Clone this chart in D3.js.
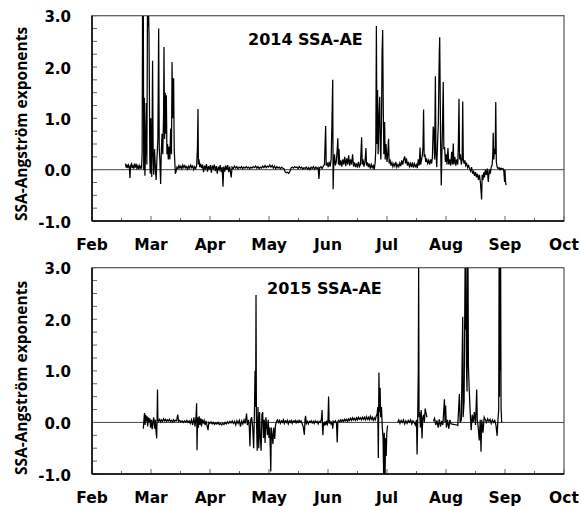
<!DOCTYPE html>
<html><head><meta charset="utf-8">
<script src="https://cdn.jsdelivr.net/npm/d3@7"></script>
<style>body{margin:0;background:#fff}svg{display:block}</style>
</head><body><svg id="c" width="581" height="506"></svg>
<script>
// ---------- data ----------
const monthLabels = ["Feb","Mar","Apr","May","Jun","Jul","Aug","Sep","Oct"];
const monthDays = [0,30,60,90,120,150,180,210,240];
const yTickLabels = [3,2,1,0,-1];
const titles = ["2014 SSA-AE","2015 SSA-AE"];
const yAxisTitle = "SSA-Angström exponents";

const days2014 = [17.0,17.4,17.8,18.2,18.6,19.0,19.3,19.6,20.0,20.4,20.8,21.2,21.6,22.0,22.4,22.8,23.2,23.6,24.0,24.4,24.8,25.2,25.5,25.7,25.9,26.1,26.3,26.6,26.9,27.2,27.6,27.9,28.2,28.5,28.8,29.0,29.2,29.4,29.6,29.9,30.1,30.4,30.8,31.1,31.4,31.8,32.2,32.6,33.0,33.5,33.9,34.2,34.5,34.9,35.2,35.6,36.0,36.4,36.6,36.9,37.2,37.5,37.8,38.1,38.4,38.8,39.2,39.6,40.0,40.4,40.7,41.0,41.2,41.5,41.8,42.1,42.4,42.8,43.2,43.7,44.2,44.7,45.2,45.7,46.2,46.7,47.2,47.7,48.2,48.7,49.2,49.7,50.2,50.7,51.2,51.7,52.2,52.7,53.2,53.6,53.9,54.1,54.4,54.8,55.2,55.7,56.2,56.7,57.2,57.7,58.2,58.7,59.2,59.7,60.2,60.7,61.2,61.7,62.2,62.7,63.2,63.7,64.2,64.7,65.2,65.7,66.2,66.6,67.0,67.5,68.0,68.5,69.0,69.5,70.0,70.8,71.2,71.8,72.4,73.0,73.6,74.2,74.8,75.4,76.0,76.6,77.2,77.8,78.4,79.0,79.6,80.2,80.8,81.4,82.0,82.6,83.2,83.8,84.4,85.0,85.6,86.2,86.8,87.4,88.0,88.6,89.2,89.8,90.4,91.0,91.6,92.2,92.8,93.4,94.0,94.6,95.2,95.8,96.4,97.0,97.6,98.2,98.8,99.4,100.0,100.6,101.2,101.8,102.4,103.0,103.6,104.2,104.8,105.4,106.0,106.6,107.2,107.8,108.4,109.0,109.6,110.2,110.8,111.4,112.0,112.6,113.2,113.8,114.4,115.0,115.4,115.8,116.4,117.0,117.6,118.2,118.8,119.1,119.6,120.1,120.6,121.1,121.6,122.0,122.4,122.6,122.9,123.3,123.7,124.2,124.7,125.0,125.3,125.6,126.0,126.5,127.0,127.5,128.0,128.5,129.0,129.5,130.0,130.5,131.0,131.5,132.0,132.5,133.0,133.5,134.0,134.5,135.0,135.5,136.0,136.5,137.1,137.4,137.8,138.3,138.8,139.3,139.6,140.0,140.5,141.0,141.5,142.0,142.5,143.0,143.5,144.0,144.3,144.6,144.9,145.2,145.5,145.9,146.3,146.6,146.9,147.2,147.5,147.8,148.1,148.4,148.8,149.1,149.5,150.0,150.4,150.8,151.1,151.5,152.0,152.5,153.0,153.5,154.0,154.5,155.0,155.5,156.0,156.5,157.0,157.5,158.0,158.5,159.0,159.4,159.9,160.4,160.9,161.4,161.9,162.4,162.9,163.4,163.9,164.4,164.9,165.4,165.9,166.4,166.8,167.1,167.6,168.0,168.3,168.6,168.9,169.3,169.7,170.2,170.7,171.2,171.7,172.2,172.7,173.1,173.5,173.9,174.2,174.6,174.9,175.3,175.7,176.1,176.4,176.6,176.8,177.0,177.3,177.6,177.9,178.2,178.6,178.9,179.3,179.7,180.1,180.5,181.0,181.4,181.9,182.4,182.9,183.3,183.7,184.0,184.5,185.0,185.5,186.0,186.3,186.6,186.9,187.3,187.8,188.2,188.5,188.8,189.2,189.6,190.0,190.5,191.0,191.5,192.0,192.5,193.0,193.5,194.0,194.5,195.0,195.5,196.0,196.5,197.0,197.5,198.1,198.4,198.8,199.2,199.6,200.0,200.5,201.0,201.5,202.0,202.5,203.0,203.5,203.8,204.0,204.3,204.7,205.0,205.3,205.6,206.0,206.5,207.0,207.5,208.0,208.5,209.0,209.4,209.8,210.0,210.2,210.5];
const ssa2014 = [0.12,0.04,0.10,0.03,0.09,0.05,-0.16,0.07,0.11,0.03,0.08,0.02,0.09,0.04,0.12,0.03,0.07,0.01,0.08,0.03,0.06,0.02,0.35,3.0,1.6,3.0,0.0,1.4,-0.12,0.3,1.3,0.1,3.0,2.8,3.0,2.6,1.4,0.2,-0.08,1.0,0.1,-0.14,2.12,0.3,-0.1,0.4,0.05,-0.2,0.2,0.6,2.75,0.4,0.2,-0.28,0.3,0.7,0.3,1.1,2.39,0.6,1.5,0.7,1.45,0.3,0.5,0.2,0.45,0.2,0.8,0.3,2.10,1.0,1.77,1.77,0.4,0.15,-0.08,-0.03,0.05,0.02,0.08,0.03,0.07,0.02,0.09,0.04,0.08,0.03,0.06,0.01,0.07,0.03,0.09,0.04,0.07,0.0,0.06,0.02,0.08,0.4,1.18,0.1,0.2,0.05,0.12,0.03,0.10,-0.05,0.08,0.02,0.11,-0.04,0.07,0.0,0.09,-0.06,0.08,0.02,0.1,-0.03,0.07,-0.08,0.06,0.0,0.09,-0.05,0.05,-0.33,0.06,-0.04,0.08,0.0,0.09,-0.05,0.06,-0.15,0.05,0.02,0.07,0.03,0.06,0.02,0.05,0.03,0.06,0.02,0.05,0.03,0.06,0.03,0.05,0.02,0.05,0.03,0.06,0.04,0.07,0.03,0.06,0.02,0.05,0.03,0.07,0.04,0.08,0.04,0.07,0.05,0.09,0.05,0.08,0.03,0.07,0.02,0.06,0.03,0.05,0.02,0.05,0.03,0.02,-0.04,-0.06,-0.05,-0.07,-0.04,0.03,0.05,0.03,0.06,0.04,0.05,0.02,0.06,0.03,0.05,0.01,0.04,0.02,0.05,0.01,0.04,0.0,0.05,0.02,0.06,0.01,0.05,0.02,0.04,-0.18,0.04,0.06,0.02,0.07,0.1,0.85,0.08,0.12,0.05,0.15,0.06,0.2,0.9,1.75,-0.38,0.1,0.3,0.08,0.15,0.4,0.61,0.1,0.4,0.08,0.18,0.06,0.2,0.1,0.25,0.07,0.22,0.1,0.28,0.08,0.2,0.1,0.3,0.06,0.14,0.05,0.12,0.04,0.15,0.06,0.1,0.63,0.1,0.2,0.06,0.15,0.42,0.08,0.14,0.05,0.12,0.02,0.1,0.04,0.08,0.0,0.15,0.4,2.8,0.5,1.55,0.3,1.0,1.42,0.4,0.2,0.9,2.29,2.72,1.2,0.3,0.93,0.2,0.5,0.15,0.3,0.6,0.12,0.2,0.08,0.14,0.06,0.12,0.07,0.15,0.05,0.1,0.06,0.13,0.07,0.18,0.1,0.2,0.26,0.12,0.22,0.08,0.15,0.06,0.12,0.05,0.14,0.04,0.12,0.06,0.1,0.03,0.2,0.08,0.43,0.1,0.2,0.3,0.44,1.17,0.25,0.3,0.15,0.2,0.12,0.18,0.1,0.2,0.12,0.25,0.84,0.72,0.2,1.82,0.3,0.05,0.5,0.9,1.8,2.27,2.58,1.7,0.4,-0.31,0.3,0.8,1.71,0.4,0.44,0.15,0.3,0.1,0.42,0.1,0.2,0.08,0.35,0.1,0.51,0.1,0.25,0.08,0.2,0.1,0.53,1.38,0.2,0.3,0.1,0.2,1.33,0.2,0.12,0.18,0.08,0.12,0.04,0.08,0.02,-0.03,0.05,-0.08,-0.02,-0.12,-0.05,-0.15,-0.08,-0.2,-0.1,-0.25,-0.58,-0.1,-0.2,-0.05,-0.15,0.0,-0.1,0.02,-0.24,0.0,-0.08,0.05,0.1,0.3,0.72,0.2,0.4,0.3,1.32,0.15,0.05,0.02,0.04,0.0,0.03,0.01,0.02,-0.03,-0.24,0.0,-0.2,-0.3];

const days2015 = [26.1,26.4,26.7,27.0,27.3,27.6,28.0,28.3,28.7,29.0,29.4,29.8,30.2,30.6,31.0,31.4,31.8,32.2,32.6,32.9,33.1,33.3,33.5,33.9,34.4,34.9,35.4,35.9,36.4,36.9,37.4,37.9,38.4,38.9,39.4,39.9,40.4,40.9,41.4,41.9,42.4,43.0,43.6,44.0,44.6,45.2,45.8,46.4,47.0,47.6,48.2,48.8,49.4,50.0,50.6,51.2,51.8,52.4,52.9,53.2,53.4,53.7,54.1,54.5,54.9,55.3,55.7,56.1,56.5,57.0,57.5,58.0,58.5,59.0,59.4,59.9,60.5,61.1,61.7,62.3,62.9,63.5,64.1,64.7,65.3,65.9,66.5,67.1,67.7,68.3,68.9,69.5,70.1,70.7,71.3,71.9,72.5,73.1,73.7,74.3,74.9,75.5,76.1,76.7,77.3,77.9,78.6,79.0,79.6,80.0,80.3,80.7,81.2,81.7,82.2,82.6,82.9,83.2,83.4,83.6,84.0,84.4,84.8,85.2,85.6,86.0,86.4,86.8,87.2,87.6,88.0,88.4,88.8,89.2,89.6,90.0,90.4,90.9,91.2,91.6,92.0,92.4,92.9,93.3,93.8,94.3,94.8,95.3,95.8,96.3,96.8,97.3,97.8,98.3,98.8,99.3,99.8,100.3,100.8,101.3,101.8,102.3,102.8,103.3,103.8,104.3,104.8,105.3,105.8,106.3,106.8,107.4,108.0,108.3,108.6,109.0,109.5,110.0,110.5,111.0,111.5,112.0,112.5,113.0,113.5,114.0,114.5,115.0,115.5,116.0,116.6,117.0,117.2,117.4,117.7,118.1,118.5,118.9,119.3,119.7,120.0,120.3,120.6,121.0,121.5,122.0,122.4,122.8,123.3,123.8,124.3,124.7,125.0,125.5,126.0,126.5,127.0,127.5,128.0,128.5,129.0,129.5,130.0,130.5,131.0,131.5,132.0,132.5,133.0,133.5,134.0,134.5,135.0,135.5,136.0,136.5,137.0,137.5,138.0,138.5,139.0,139.5,140.0,140.5,141.0,141.5,142.0,142.5,143.0,143.5,144.0,144.5,145.0,145.3,145.6,145.9,146.2,146.5,146.8,147.2,147.6,148.0,148.3,148.6,149.0,149.3,149.6,149.9,150.3,152.0,155.4,156.0,156.6,157.2,157.8,158.4,159.0,159.6,160.2,160.8,161.4,162.0,162.6,163.2,163.8,164.4,165.0,165.3,165.6,165.9,166.1,166.3,166.6,167.0,167.4,167.8,168.2,168.6,169.0,169.4,170.3,171.5,173.6,174.2,174.8,175.4,176.0,176.6,177.2,177.8,178.4,179.2,179.5,179.8,180.2,180.8,181.4,182.0,182.6,185.5,186.0,186.8,187.2,187.8,188.3,188.5,188.7,189.2,189.7,189.9,190.2,190.4,190.7,191.0,191.2,191.4,191.8,192.3,192.8,193.3,193.8,194.4,195.0,195.6,195.9,196.4,196.9,197.4,197.8,198.2,198.8,199.4,200.0,200.6,201.2,201.8,202.4,203.0,203.6,204.2,204.8,205.4,206.0,206.4,206.8,207.0,207.2,207.4,207.6,207.8,208.0,208.3];
const ssa2015 = [-0.12,0.05,0.18,-0.05,0.15,0.02,0.12,-0.08,0.10,0.0,0.08,-0.10,0.05,-0.13,0.02,0.1,-0.12,0.05,-0.2,-0.31,0.1,0.64,0.05,0.02,0.06,0.01,0.05,0.02,0.07,0.03,0.06,0.02,0.05,0.03,0.06,0.02,0.04,0.01,0.05,0.02,0.04,0.03,0.15,0.02,0.04,0.01,0.03,0.0,0.03,0.01,0.04,0.0,0.03,-0.02,0.05,-0.05,0.1,-0.08,0.12,0.37,-0.54,0.1,-0.1,0.12,-0.05,0.08,-0.08,0.06,-0.02,0.04,-0.05,0.03,-0.06,-0.15,0.0,-0.02,0.01,-0.03,0.0,-0.04,-0.01,-0.03,0.0,-0.04,-0.02,-0.05,-0.02,-0.04,0.0,-0.03,0.01,-0.02,0.02,-0.01,0.03,-0.02,0.02,-0.05,0.03,-0.02,0.04,-0.08,0.03,-0.03,0.05,-0.02,0.17,-0.05,0.05,-0.1,-0.46,0.05,0.1,-0.1,-0.5,0.2,1.0,0.3,2.47,0.1,-0.55,0.3,-0.5,0.2,-0.3,-0.55,0.15,0.2,-0.3,0.05,-0.4,0.1,-0.05,-0.25,0.05,-0.3,-0.1,-0.95,-0.1,-0.25,-0.42,-0.1,-0.32,-0.05,0.02,0.05,0.0,0.04,-0.02,0.03,0.0,0.05,-0.02,0.03,0.0,0.04,-0.03,0.03,0.0,0.04,-0.02,0.03,0.01,0.04,-0.01,0.03,0.0,0.04,0.01,0.03,-0.02,-0.08,-0.24,0.05,0.13,-0.02,0.02,-0.03,0.02,0.0,0.03,-0.01,0.02,-0.02,0.03,0.0,0.02,-0.03,0.02,0.0,0.05,0.24,-0.08,-0.25,0.0,-0.06,0.02,-0.05,0.01,-0.03,0.05,0.5,-0.02,0.02,-0.03,0.01,-0.12,0.02,0.0,0.03,-0.01,-0.39,0.02,0.04,0.01,0.05,0.02,0.05,0.02,0.06,0.03,0.06,0.02,0.07,0.04,0.08,0.04,0.09,0.05,0.08,0.04,0.09,0.05,0.1,0.06,0.09,0.05,0.1,0.06,0.1,0.05,0.11,0.06,0.1,0.05,0.12,0.06,0.1,0.04,0.09,0.05,0.12,0.17,0.3,-0.69,0.97,0.2,0.67,0.1,0.3,-0.1,-0.3,-1.05,-0.2,-1.05,-0.3,-0.65,-0.2,-0.06,null,0.0,0.05,-0.02,0.04,0.0,0.05,-0.03,0.03,-0.02,0.04,0.0,0.05,-0.03,0.03,0.0,-0.05,0.05,-0.62,0.05,1.0,3.0,0.1,0.2,-0.1,0.24,-0.31,0.1,0.15,0.0,0.27,0.1,null,0.02,0.08,-0.05,0.04,-0.1,0.06,-0.08,0.03,-0.05,0.45,0.0,0.33,-0.1,0.05,-0.12,0.05,-0.03,-0.05,-0.06,0.55,0.0,0.05,1.5,2.05,0.1,0.4,3.0,1.8,3.0,1.1,0.6,3.0,3.0,1.1,0.65,0.2,-0.15,0.15,0.0,0.2,-0.05,0.64,0.05,-0.1,-0.35,0.05,-0.57,0.05,-0.2,0.1,0.05,0.0,0.07,0.02,0.06,-0.02,0.05,0.0,0.04,-0.05,-0.26,0.05,0.24,3.0,0.5,3.0,1.0,3.0,0.3,0.0];

// ---------- chart ----------
const svg = d3.select("#c");
const X0 = 92, X1 = 564;
const x = d3.scaleLinear().domain([0, 240]).range([X0, X1]);
const panels = [
  {top: 15.7, bottom: 221, days: days2014, vals: ssa2014, title: titles[0], tx: 248, ty: 45, ly: 124},
  {top: 267.7, bottom: 474, days: days2015, vals: ssa2015, title: titles[1], tx: 267, ty: 293.5, ly: 378}
];
const FONT = "'DejaVu Sans', sans-serif";
const fmt = v => v.toFixed(1);

panels.forEach((p, i) => {
  const y = d3.scaleLinear().domain([-1, 3]).range([p.bottom, p.top]);
  const g = svg.append("g");
  const cid = "clip" + i;
  svg.append("clipPath").attr("id", cid).append("rect")
    .attr("x", X0).attr("y", p.top).attr("width", X1 - X0).attr("height", p.bottom - p.top);

  // frame
  g.append("rect").attr("x", X0).attr("y", p.top).attr("width", X1 - X0).attr("height", p.bottom - p.top)
    .attr("fill", "none").attr("stroke", "#555").attr("stroke-width", 1.2);

  // zero line
  g.append("line").attr("x1", X0).attr("x2", X1).attr("y1", y(0)).attr("y2", y(0))
    .attr("stroke", "#444").attr("stroke-width", 1);

  // y ticks (inside)
  const yt = d3.range(-1, 3.001, 0.25);
  g.selectAll(".yt").data(yt).enter().append("line")
    .attr("x1", X0).attr("x2", X0 + 5).attr("y1", d => y(d)).attr("y2", d => y(d))
    .attr("stroke", "#666").attr("stroke-width", 1);
  g.selectAll(".yl").data(yTickLabels).enter().append("text")
    .attr("x", 71).attr("y", d => y(d) + 6.5).attr("text-anchor", "end")
    .attr("font-family", FONT).attr("font-weight", "bold").attr("font-size", 15)
    .text(d => fmt(d));

  // x ticks (inside)
  const xt = d3.range(0, 241, 15);
  g.selectAll(".xt").data(xt).enter().append("line")
    .attr("x1", d => x(d)).attr("x2", d => x(d))
    .attr("y1", p.bottom).attr("y2", d => p.bottom - (d % 30 === 0 ? 5 : 3))
    .attr("stroke", "#666").attr("stroke-width", 1);
  g.selectAll(".xl").data(monthLabels).enter().append("text")
    .attr("x", (d, j) => x(monthDays[j])).attr("y", p.bottom + 28.5).attr("text-anchor", "middle")
    .attr("font-family", FONT).attr("font-weight", "bold").attr("font-size", 15.5)
    .text(d => d);

  // axis lines
  g.append("line").attr("x1", X0).attr("x2", X0).attr("y1", p.top).attr("y2", p.bottom)
    .attr("stroke", "#000").attr("stroke-width", 1.5);
  g.append("line").attr("x1", X0).attr("x2", X1).attr("y1", p.bottom).attr("y2", p.bottom)
    .attr("stroke", "#000").attr("stroke-width", 1.5);

  // data line
  const pts = p.days.map((d, j) => [d, p.vals[j]]);
  const line = d3.line().defined(d => d[1] !== null).x(d => x(d[0])).y(d => y(d[1]));
  g.append("path").datum(pts).attr("d", line).attr("clip-path", `url(#${cid})`)
    .attr("fill", "none").attr("stroke", "#000").attr("stroke-width", 1.25).attr("stroke-linejoin", "miter");

  // title
  g.append("text").attr("x", p.tx).attr("y", p.ty)
    .attr("font-family", FONT).attr("font-weight", "bold").attr("font-size", 16)
    .text(p.title);

  // y axis title
  g.append("text").attr("transform", `translate(27,${p.ly}) rotate(-90)`).attr("text-anchor", "middle")
    .attr("font-family", "'Open Sans', sans-serif").attr("font-weight", "bold").attr("font-size", 15.5)
    .text(yAxisTitle);
});
</script>
</body></html>
